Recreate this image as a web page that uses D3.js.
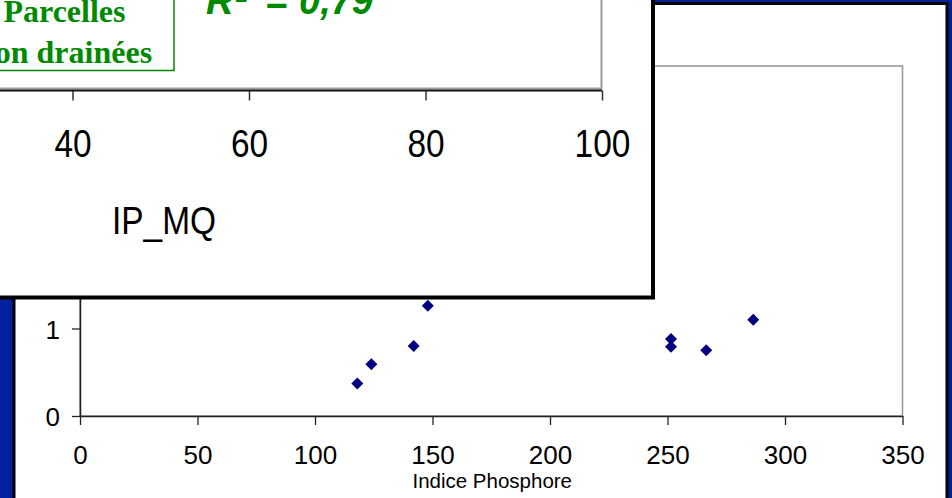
<!DOCTYPE html>
<html>
<head>
<meta charset="utf-8">
<script src="https://cdn.jsdelivr.net/npm/d3@7/dist/d3.min.js"></script>
<style>
  html, body { margin: 0; padding: 0; background: #fff; }
  svg { display: block; }
</style>
</head>
<body>
<svg id="chart" width="952" height="498"></svg>
<script>
// ---- Data ----
const indicePhosphore = [118, 124, 142, 148, 251.5, 251.5, 266.5, 286.5];
const yValues        = [0.37, 0.59, 0.80, 1.26, 0.88, 0.79, 0.75, 1.10];
const xTicksMain  = [0, 50, 100, 150, 200, 250, 300, 350];
const yTicksMain  = [0, 1, 2, 3, 4];
const yTicksShown = [0, 1];          // the others are hidden behind the front window
const xTicksFront = [40, 60, 80, 100];
const legendLines = ["Parcelles", "non drainées"];
const r2Label     = "0,79";
const xTitleMain  = "Indice Phosphore";
const xTitleFront = "IP_MQ";

const svg = d3.select("#chart");
const W = 952, H = 498;
const blue = "#03219c";
const green = "#008a00";

// Background
svg.append("rect").attr("width", W).attr("height", H).attr("fill", blue);

// ---- Back chart ----
svg.append("rect")
  .attr("x", 14).attr("y", 3.5).attr("width", 933).attr("height", 600)
  .attr("fill", "#fff").attr("stroke", "#000").attr("stroke-width", 3);

const x = d3.scaleLinear().domain([0, 350]).range([80, 902.5]);
const y = d3.scaleLinear().domain([0, 4]).range([416, 66]);

// plot area border (grey)
svg.append("rect")
  .attr("x", x(0)).attr("y", y(4))
  .attr("width", x(350) - x(0)).attr("height", y(0) - y(4))
  .attr("fill", "none").attr("stroke", "#9a9a9a").attr("stroke-width", 1.6);

const xAxis = svg.append("g")
  .attr("transform", `translate(0,${y(0)})`)
  .call(d3.axisBottom(x).tickValues(xTicksMain).tickFormat(d3.format("d"))
        .tickSize(9).tickSizeOuter(0).tickPadding(4));
xAxis.select(".domain").attr("stroke", "#222").attr("stroke-width", 1.5);
xAxis.selectAll(".tick line").attr("stroke", "#222").attr("stroke-width", 1.3);
xAxis.selectAll(".tick text")
  .attr("font-family", "Liberation Sans, Arial, sans-serif")
  .attr("font-size", 26).attr("fill", "#000")
  .attr("y", 48).attr("dy", 0);

const yAxis = svg.append("g")
  .attr("transform", `translate(${x(0)},0)`)
  .call(d3.axisLeft(y).tickValues(yTicksMain).tickFormat(d3.format("d"))
        .tickSize(8).tickSizeOuter(0));
yAxis.select(".domain").attr("stroke", "#222").attr("stroke-width", 1.5);
yAxis.selectAll(".tick line").attr("stroke", "#222").attr("stroke-width", 1.3);
yAxis.selectAll(".tick text")
  .attr("font-family", "Liberation Sans, Arial, sans-serif")
  .attr("font-size", 26).attr("fill", "#000")
  .attr("x", -20).attr("dy", 0).attr("y", 9.5);
yAxis.selectAll(".tick").filter(d => !yTicksShown.includes(d)).select("text").remove();

svg.append("text")
  .attr("x", (x(0) + x(350)) / 2 + 1).attr("y", 488)
  .attr("text-anchor", "middle")
  .attr("font-family", "Liberation Sans, Arial, sans-serif")
  .attr("font-size", 20.5).attr("fill", "#000")
  .text(xTitleMain);

const pts = indicePhosphore.map((v, i) => ({ x: v, y: yValues[i] }));
const sym = d3.symbol().type(d3.symbolSquare).size(72);
svg.append("g").selectAll("path").data(pts).join("path")
  .attr("d", sym)
  .attr("transform", d => `translate(${x(d.x)},${y(d.y)}) rotate(45)`)
  .attr("fill", "#000080");

// ---- Front chart (overlapping window) ----
svg.append("rect")
  .attr("x", -20).attr("y", -20).attr("width", 673).attr("height", 317.5)
  .attr("fill", "#fff").attr("stroke", "#000").attr("stroke-width", 4);

const xf = d3.scaleLinear().domain([40, 100]).range([72.5, 602]);
// plot area border (grey)
svg.append("rect")
  .attr("x", -60).attr("y", -40)
  .attr("width", xf(100) + 60 - 0.5).attr("height", 88.5 + 40)
  .attr("fill", "none").attr("stroke", "#9a9a9a").attr("stroke-width", 2);

const xfAxis = svg.append("g")
  .attr("transform", "translate(0,90.5)")
  .call(d3.axisBottom(xf).tickValues(xTicksFront).tickSize(10).tickSizeOuter(0));
xfAxis.select(".domain").remove();
xfAxis.append("line")
  .attr("x1", -20).attr("x2", xf(100)).attr("y1", 0).attr("y2", 0)
  .attr("stroke", "#111").attr("stroke-width", 2);
xfAxis.selectAll(".tick line").attr("stroke", "#333").attr("stroke-width", 1.5);
xfAxis.selectAll(".tick text")
  .attr("font-family", "Liberation Sans, Arial, sans-serif")
  .attr("font-size", 38).attr("fill", "#000")
  .attr("y", 66.5).attr("dy", 0)
  .attr("transform", "scale(0.88,1)");

svg.append("text")
  .attr("transform", "translate(112,234) scale(0.88,1)")
  .attr("font-family", "Liberation Sans, Arial, sans-serif")
  .attr("font-size", 38).attr("fill", "#000")
  .text(xTitleFront);

// Legend box
svg.append("rect")
  .attr("x", -60).attr("y", -20).attr("width", 234).attr("height", 90.5)
  .attr("fill", "#fff").attr("stroke", green).attr("stroke-width", 1.5);
svg.append("g").selectAll("text").data(legendLines).join("text")
  .attr("x", 64.5).attr("y", (d, i) => 21.7 + i * 41)
  .attr("text-anchor", "middle")
  .attr("font-family", "Liberation Serif, Times New Roman, serif")
  .attr("font-weight", "bold").attr("font-size", 32)
  .attr("fill", green)
  .text(d => d);

// R² label
const r2 = svg.append("text")
  .attr("y", 14)
  .attr("font-family", "Liberation Sans, Arial, sans-serif")
  .attr("font-weight", "bold").attr("font-style", "italic")
  .attr("font-size", 38).attr("fill", green);
r2.append("tspan").attr("x", 206).text("R");
r2.append("tspan").attr("x", 236).attr("dy", -12).attr("font-size", 22).text("2");
r2.append("tspan").attr("x", 265).attr("dy", 12).text("=");
r2.append("tspan").attr("x", 299).text(r2Label);
</script>
</body>
</html>
